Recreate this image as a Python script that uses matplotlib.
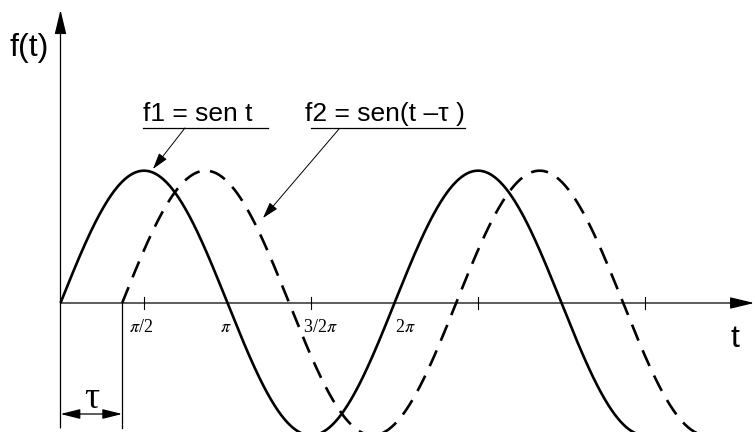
import numpy as np
import matplotlib
matplotlib.use("Agg")
from matplotlib import pyplot as plt

plt.rcParams['font.family'] = ['Liberation Sans', 'DejaVu Sans']

# phase delay of the second wave (rad)
tau = 1.16
# marks drawn on the t axis and the labels written under it
tick_marks = [np.pi / 2, 3 * np.pi / 2, 5 * np.pi / 2, 7 * np.pi / 2]
label_pos = [np.pi / 2, np.pi, 3 * np.pi / 2, 2 * np.pi]
label_text = [r"$\pi$/2", r"$\pi$", r"3/2$\pi$", r"2$\pi$"]
label_shift = [-0.05, -0.03, 0.17, 0.2]

t1 = np.linspace(0, 7 * np.pi / 2, 600)
t2 = np.linspace(tau, 7 * np.pi / 2 + tau, 600)
f1 = np.sin(t1)
f2 = np.sin(t2 - tau)

fig = plt.figure(figsize=(7.55, 4.32), dpi=100)
ax = fig.add_axes([0, 0, 1, 1])
ax.set_xlim(-1.138, 13.065)
ax.set_ylim(-0.975, 2.290)
ax.axis("off")

ax.plot(t1, f1, color="black", lw=1.9, solid_capstyle="butt")
ax.plot(t2, f2, color="black", lw=1.9, linestyle=(0, (6.5, 4.0)))

# axes with arrow heads
axis_arrow = dict(arrowstyle="-|>,head_length=0.75,head_width=0.18",
                  mutation_scale=20, color="black", lw=0.9,
                  shrinkA=0, shrinkB=0)
ax.annotate("", xy=(13.05, 0), xytext=(0, 0), arrowprops=axis_arrow)
ax.annotate("", xy=(0, 2.215), xytext=(0, -0.945), arrowprops=axis_arrow)

for x in tick_marks:
    ax.plot([x, x], [-0.045, 0.045], color="black", lw=0.8)
for x, s, d in zip(label_pos, label_text, label_shift):
    ax.text(x + d, -0.12, s, ha="center", va="top", fontsize=13,
            family="Liberation Serif", math_fontfamily="stix")

ax.text(-0.95, 1.93, "f(t)", fontsize=23, ha="left", va="center")
ax.text(12.6, -0.27, "t", fontsize=23, ha="left", va="center")

# labels with underline and leader arrow
lead = dict(arrowstyle="-|>,head_length=0.5,head_width=0.15",
            mutation_scale=20, color="black", lw=0.7,
            shrinkA=0, shrinkB=0)
ax.text(1.552, 1.376, "f1 = sen t", fontsize=19, ha="left", va="baseline")
ax.plot([1.552, 3.903], [1.323, 1.323], color="black", lw=0.9)
ax.annotate("", xy=(1.740, 1.013), xytext=(2.342, 1.323), arrowprops=lead)

ax.text(4.599, 1.376, "f2 = sen(t \u2013\u03c4 )", fontsize=19, ha="left", va="baseline")
ax.plot([4.712, 7.608], [1.323, 1.323], color="black", lw=0.9)
ax.annotate("", xy=(3.809, 0.642), xytext=(5.239, 1.315), arrowprops=lead)

# delay dimension below the axis
ax.plot([tau, tau], [0, -0.945], color="black", lw=0.9)
dim = dict(arrowstyle="<|-|>,head_length=0.6,head_width=0.15",
           mutation_scale=20, color="black", lw=0.9, shrinkA=0, shrinkB=0)
ax.annotate("", xy=(tau, -0.839), xytext=(0, -0.839), arrowprops=dim)
ax.text(tau / 2, -0.72, "\u03c4", fontsize=27, ha="center", va="center",
        family="Liberation Serif")

fig.savefig("out.png", dpi=100)
